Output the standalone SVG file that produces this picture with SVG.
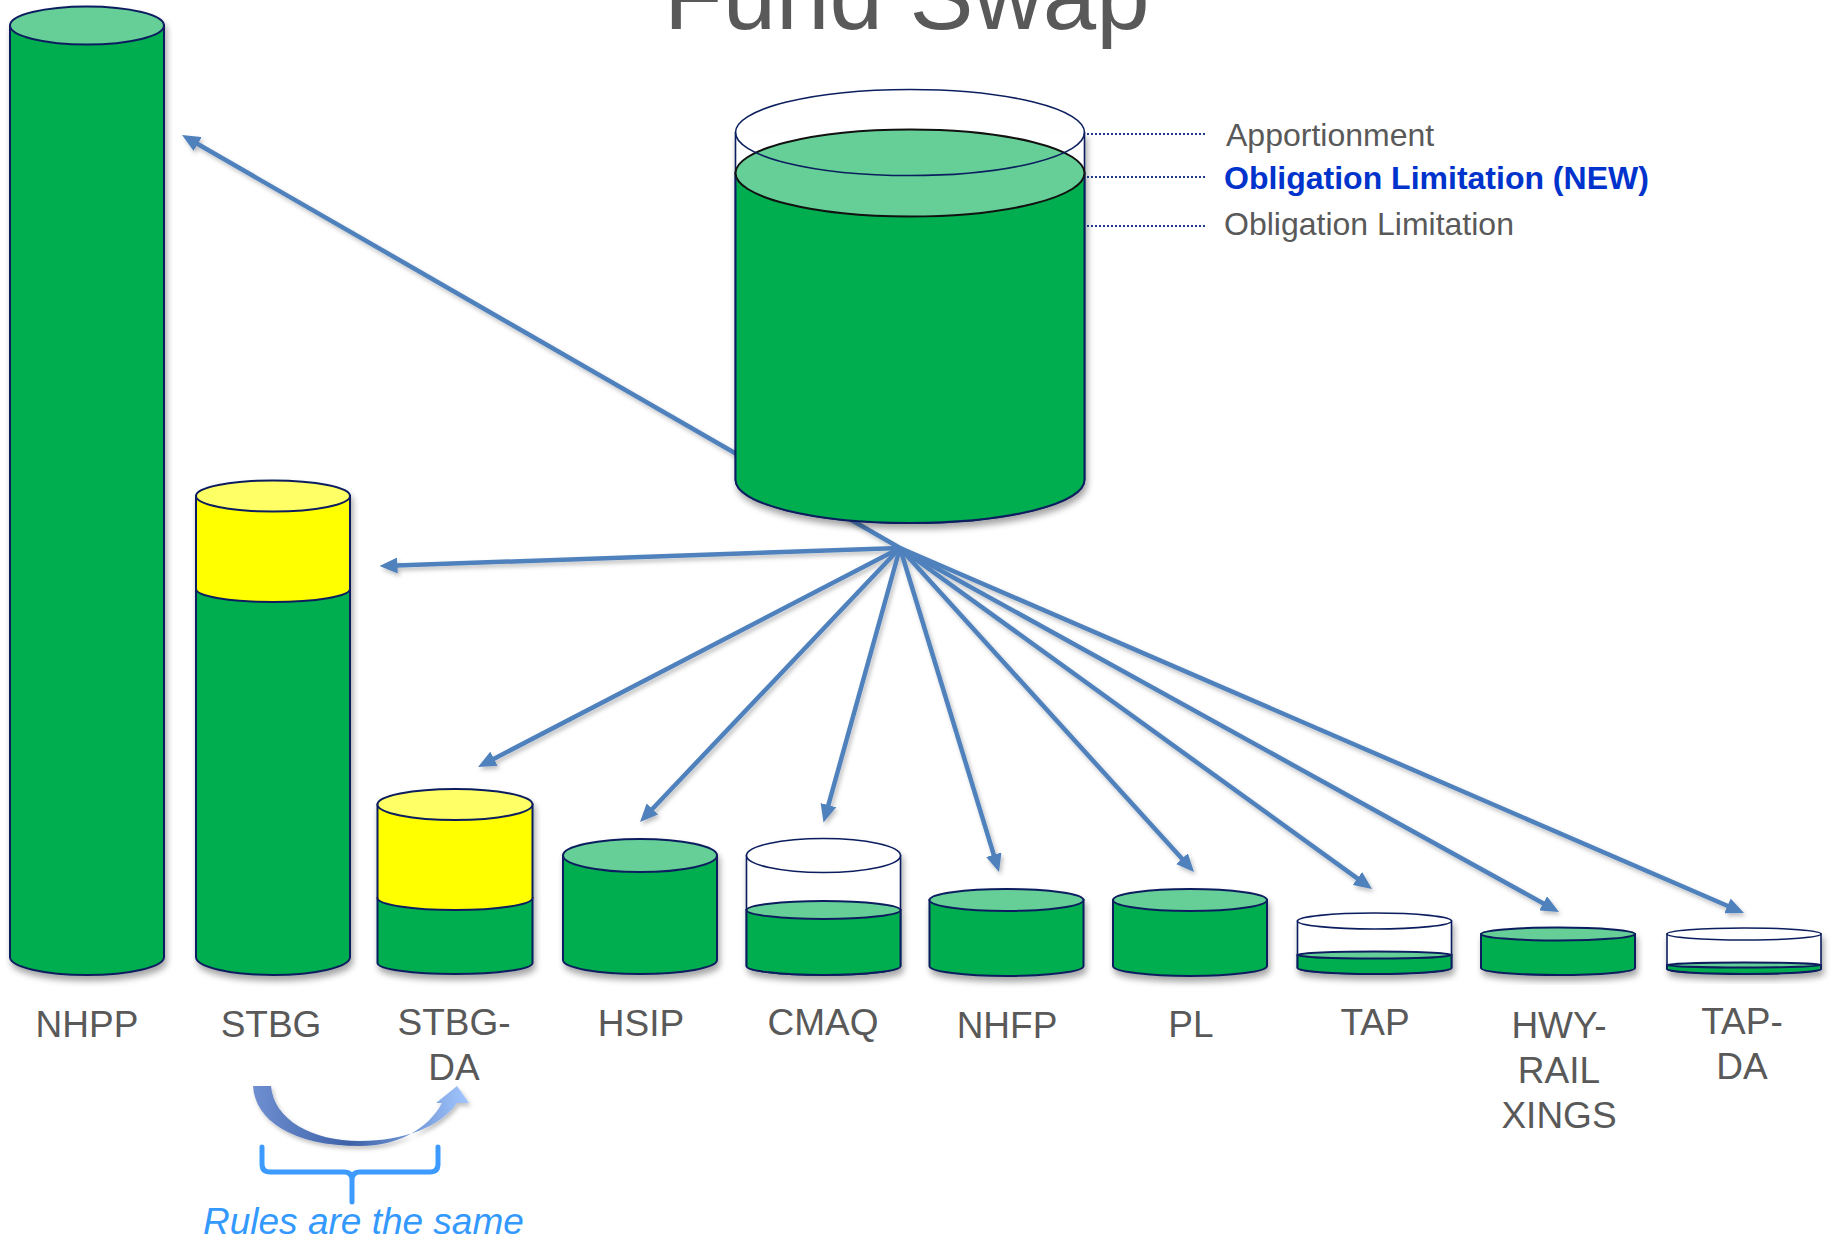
<svg xmlns="http://www.w3.org/2000/svg" width="1831" height="1239" viewBox="0 0 1831 1239">
<defs>
<style>
.g{fill:#00AE50;stroke:#0b1f5e;stroke-width:2}
.lg{fill:#66CF98;stroke:#0b1f5e;stroke-width:2}
.y{fill:#FFFF00;stroke:#0b1f5e;stroke-width:2}
.ly{fill:#FFFF66;stroke:#0b1f5e;stroke-width:2}
.w{fill:#FFFFFF;stroke:#0b1f5e;stroke-width:1.6}
.lbl{font-family:"Liberation Sans",Arial,sans-serif;font-size:37px;fill:#595959;text-anchor:middle}
.leg{font-family:"Liberation Sans",Arial,sans-serif;font-size:32px;fill:#595959}
.conn{stroke:#4F81BD;stroke-width:4.5;fill:none;marker-end:url(#ah)}
.lead{stroke:#1f3a8a;stroke-width:2;stroke-dasharray:2 2;fill:none}
</style>
<marker id="ah" viewBox="0 0 18 16" refX="8" refY="8" markerWidth="18" markerHeight="16" markerUnits="userSpaceOnUse" orient="auto">
<path d="M0,0 L18,8 L0,16 z" fill="#4F81BD"/>
</marker>
<filter id="sh" x="-10%" y="-10%" width="125%" height="130%">
<feDropShadow dx="2" dy="5" stdDeviation="3" flood-color="#000" flood-opacity="0.35"/>
</filter>
<filter id="lsh" x="-10%" y="-10%" width="125%" height="130%">
<feDropShadow dx="2" dy="3" stdDeviation="2" flood-color="#000" flood-opacity="0.25"/>
</filter>
<linearGradient id="cg" x1="0" y1="0" x2="1" y2="0">
<stop offset="0" stop-color="#6F8FD0"/>
<stop offset="0.45" stop-color="#3D61A8"/>
<stop offset="1" stop-color="#A2C7FF"/>
</linearGradient>
</defs>
<rect width="1831" height="1239" fill="#FFFFFF"/>

<text x="664" y="29" font-family="Liberation Sans, Arial, sans-serif" font-size="96" fill="#595959">Fund Swap</text>

<g id="connectors" filter="url(#lsh)">
<line class="conn" x1="900" y1="548" x2="190.7" y2="140"/>
<line class="conn" x1="900" y1="548" x2="389.5" y2="565.7"/>
<line class="conn" x1="900" y1="548" x2="486.9" y2="762.4"/>
<line class="conn" x1="900" y1="548" x2="646.9" y2="814.7"/>
<line class="conn" x1="900" y1="548" x2="826.2" y2="812.9"/>
<line class="conn" x1="900" y1="548" x2="996.1" y2="862.4"/>
<line class="conn" x1="900" y1="548" x2="1187.3" y2="864.6"/>
<line class="conn" x1="900" y1="548" x2="1363.9" y2="883.1"/>
<line class="conn" x1="900" y1="548" x2="1550.2" y2="907.2"/>
<line class="conn" x1="900" y1="548" x2="1734.8" y2="909"/>
</g>

<g id="main">
<g filter="url(#sh)">
<path class="w" d="M735.5 132.5 V480 A174.5 43 0 0 0 1084.5 480 V132.5"/>
<path class="g" d="M735.5 173 V480 A174.5 43 0 0 0 1084.5 480 V173 Z"/>
</g>
<ellipse cx="910" cy="173" rx="174.5" ry="43.5" fill="#66CF98" stroke="#111" stroke-width="2"/>
<ellipse cx="910" cy="132.5" rx="174.5" ry="43" fill="none" stroke="#0b1f5e" stroke-width="1.6"/>
<line class="lead" x1="1087" y1="134" x2="1205" y2="134"/>
<line class="lead" x1="1087" y1="177" x2="1205" y2="177"/>
<line class="lead" x1="1087" y1="226" x2="1205" y2="226"/>
<text class="leg" x="1226" y="146">Apportionment</text>
<text x="1224" y="189" font-family="Liberation Sans, Arial, sans-serif" font-size="32" font-weight="bold" fill="#0033CC">Obligation Limitation (NEW)</text>
<text class="leg" x="1224" y="235">Obligation Limitation</text>
</g>

<g id="nhpp">
<g filter="url(#sh)">
<path class="g" d="M10 25.5 V957 A77 18 0 0 0 164 957 V25.5 Z"/>
<ellipse class="lg" cx="87" cy="25.5" rx="77" ry="19"/>
</g>
<text class="lbl" x="87" y="1037">NHPP</text>
</g>

<g id="stbg">
<g filter="url(#sh)">
<path class="g" d="M196 589 V957 A77 18 0 0 0 350 957 V589 Z"/>
<path class="y" d="M196 496 V589 A77 13 0 0 0 350 589 V496 Z"/>
<ellipse class="ly" cx="273" cy="496" rx="77" ry="15.5"/>
</g>
<text class="lbl" x="271" y="1037">STBG</text>
</g>

<g id="stbg-da">
<g filter="url(#sh)">
<path class="g" d="M377.5 898 V963 A77.5 11 0 0 0 532.5 963 V898 Z"/>
<path class="y" d="M377.5 804.5 V898 A77.5 12 0 0 0 532.5 898 V804.5 Z"/>
<ellipse class="ly" cx="455" cy="804.5" rx="77.5" ry="15.5"/>
</g>
<text class="lbl" x="454" y="1035">STBG-</text>
<text class="lbl" x="454" y="1080">DA</text>
</g>

<g id="hsip">
<g filter="url(#sh)">
<path class="g" d="M563 855.5 V960 A77 14 0 0 0 717 960 V855.5 Z"/>
<ellipse class="lg" cx="640" cy="855.5" rx="77" ry="16.5"/>
</g>
<text class="lbl" x="641" y="1036">HSIP</text>
</g>

<g id="cmaq">
<g filter="url(#sh)">
<path class="w" d="M746.5 855.5 V966 A77 9 0 0 0 900.5 966 V855.5 Z"/>
<path class="g" d="M746.5 910 V966 A77 9 0 0 0 900.5 966 V910 Z"/>
<ellipse class="lg" cx="823.5" cy="910" rx="77" ry="9"/>
<ellipse class="w" cx="823.5" cy="855.5" rx="77" ry="17"/>
</g>
<text class="lbl" x="823" y="1035">CMAQ</text>
</g>

<g id="nhfp">
<g filter="url(#sh)">
<path class="g" d="M929.5 900 V966 A77 10 0 0 0 1083.5 966 V900 Z"/>
<ellipse class="lg" cx="1006.5" cy="900" rx="77" ry="11"/>
</g>
<text class="lbl" x="1007" y="1038">NHFP</text>
</g>

<g id="pl">
<g filter="url(#sh)">
<path class="g" d="M1113 900 V966 A77 10 0 0 0 1267 966 V900 Z"/>
<ellipse class="lg" cx="1190" cy="900" rx="77" ry="11"/>
</g>
<text class="lbl" x="1191" y="1037">PL</text>
</g>

<g id="tap">
<g filter="url(#sh)">
<path class="w" d="M1297.5 921 V968 A77 6 0 0 0 1451.5 968 V921 Z"/>
<path class="g" d="M1297.5 955 V968 A77 6 0 0 0 1451.5 968 V955 Z"/>
<ellipse class="lg" cx="1374.5" cy="955" rx="77" ry="3.5"/>
<ellipse class="w" cx="1374.5" cy="921" rx="77" ry="8"/>
</g>
<text class="lbl" x="1375" y="1035">TAP</text>
</g>

<g id="hwy-rail">
<g filter="url(#sh)">
<path class="g" d="M1481 934 V968 A77 7 0 0 0 1635 968 V934 Z"/>
<ellipse class="lg" cx="1558" cy="934" rx="77" ry="6.5"/>
</g>
<text class="lbl" x="1559" y="1038">HWY-</text>
<text class="lbl" x="1559" y="1083">RAIL</text>
<text class="lbl" x="1559" y="1128">XINGS</text>
</g>

<g id="tap-da">
<g filter="url(#sh)">
<path class="w" d="M1667 934 V969 A77 5 0 0 0 1821 969 V934 Z"/>
<path class="g" d="M1667 965 V969 A77 5 0 0 0 1821 969 V965 Z"/>
<ellipse class="lg" cx="1744" cy="965" rx="77" ry="2.5"/>
<ellipse class="w" cx="1744" cy="934" rx="77" ry="6"/>
</g>
<text class="lbl" x="1742" y="1034">TAP-</text>
<text class="lbl" x="1742" y="1079">DA</text>
</g>

<g id="rules">
<path d="M253 1086 C255 1120 292 1146 360 1146 C398 1146 428 1129 442 1103 L436 1103 L457 1086 L469 1103 L457 1103 C441 1126 405 1141 360 1141 C312 1141 274 1120 271 1086 Z" fill="url(#cg)" filter="url(#lsh)"/>
<path d="M262 1147 V1164 Q262 1172 270 1172 H344 Q352 1172 352 1180 V1202 M352 1180 Q352 1172 360 1172 H430 Q438 1172 438 1164 V1147" fill="none" stroke="#3D9BFF" stroke-width="5" stroke-linecap="round" stroke-linejoin="round"/>
<text x="203" y="1234" font-family="Liberation Sans, Arial, sans-serif" font-size="37" font-style="italic" fill="#3399FF">Rules are the same</text>
</g>
</svg>
